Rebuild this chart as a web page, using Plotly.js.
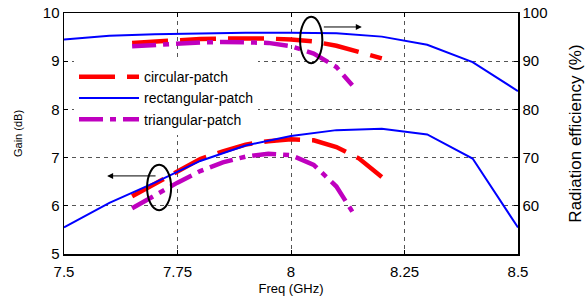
<!DOCTYPE html>
<html>
<head>
<meta charset="utf-8">
<script src="https://cdn.plot.ly/plotly-3.0.1.min.js"></script>
<style>html,body{margin:0;padding:0;background:#fff;}#chart{width:585px;height:300px;}</style>
</head>
<body>
<div id="chart"></div>
<script>
// Frequencies (GHz)
const freqRect = [7.5, 7.6, 7.7, 7.8, 7.9, 8.0, 8.1, 8.2, 8.3, 8.4, 8.5];
const freqCirc = [7.65, 7.7, 7.75, 7.8, 7.85, 7.9, 7.95, 8.0, 8.05, 8.1, 8.15, 8.2];
const freqTri  = [7.65, 7.7, 7.75, 7.8, 7.85, 7.9, 7.95, 8.0, 8.05, 8.1, 8.135];

// Gain (dB)
const gainRect = [5.55, 6.06, 6.48, 6.93, 7.25, 7.45, 7.57, 7.6, 7.48, 6.98, 5.55];
const gainCirc = [6.2, 6.45, 6.72, 6.97, 7.13, 7.27, 7.34, 7.38, 7.36, 7.22, 6.98, 6.6];
const gainTri  = [5.95, 6.22, 6.48, 6.72, 6.9, 7.02, 7.08, 7.05, 6.85, 6.4, 5.88];

// Radiation efficiency (%)
const effRect = [94.5, 95.3, 95.6, 95.8, 95.9, 95.9, 95.8, 95.1, 93.4, 89.8, 83.8];
const effCirc = [93.8, 94.1, 94.4, 94.6, 94.7, 94.75, 94.7, 94.5, 94.1, 93.2, 92.0, 90.6];
const effTri  = [93.1, 93.4, 93.7, 93.9, 94.0, 94.0, 93.8, 93.1, 91.6, 88.8, 85.0];

const names = ['circular-patch', 'rectangular-patch', 'triangular-patch'];

const red = '#ff0000', blue = '#0000ff', mag = '#bf00bf';
const redDash = '36px,12px';
const magDash = '24px,7px,6px,7px';

const traces = [
  {x: freqCirc, y: gainCirc, name: names[0], mode: 'lines', line: {color: red, width: 4.5, dash: redDash}, yaxis: 'y'},
  {x: freqRect, y: gainRect, name: names[1], mode: 'lines', line: {color: blue, width: 2}, yaxis: 'y'},
  {x: freqTri, y: gainTri, name: names[2], mode: 'lines', line: {color: mag, width: 4.5, dash: magDash}, yaxis: 'y'},
  {x: freqCirc, y: effCirc, name: names[0], mode: 'lines', line: {color: red, width: 4.5, dash: redDash}, yaxis: 'y2', showlegend: false},
  {x: freqRect, y: effRect, name: names[1], mode: 'lines', line: {color: blue, width: 2}, yaxis: 'y2', showlegend: false},
  {x: freqTri, y: effTri, name: names[2], mode: 'lines', line: {color: mag, width: 4.5, dash: magDash}, yaxis: 'y2', showlegend: false}
];

const FAM = 'Liberation Sans, Arial, sans-serif';
const axFont = {family: FAM, size: 15, color: '#000'};

const layout = {
  width: 585, height: 300,
  margin: {l: 64, r: 67, t: 13, b: 46},
  paper_bgcolor: '#fff', plot_bgcolor: '#fff',
  showlegend: true,
  legend: {
    x: 0.022, y: 0.80, xanchor: 'left', yanchor: 'top',
    bgcolor: '#fff', borderwidth: 0,
    font: {family: FAM, size: 14, color: '#000'},
    itemwidth: 60, tracegroupgap: 0
  },
  xaxis: {
    range: [7.5, 8.5], tickvals: [7.5, 7.75, 8, 8.25, 8.5], ticktext: ['7.5', '7.75', '8', '8.25', '8.5'],
    showline: true, linecolor: '#000', linewidth: 1.5, mirror: 'ticks',
    ticks: 'inside', ticklen: 4, tickcolor: '#000', ticklabelstandoff: 3,
    showgrid: true, gridcolor: '#555', gridwidth: 1, griddash: '4px,4px',
    zeroline: false, tickfont: axFont,
    title: {text: 'Freq (GHz)', font: {family: FAM, size: 13, color: '#000'}, standoff: 5}
  },
  yaxis: {
    range: [5, 10], tickvals: [5, 6, 7, 8, 9, 10],
    showline: true, linecolor: '#000', linewidth: 1.5,
    ticks: 'inside', ticklen: 4, tickcolor: '#000',
    showgrid: true, gridcolor: '#555', gridwidth: 1, griddash: '4px,4px',
    zeroline: false, tickfont: axFont,
    title: {text: 'Gain (dB)', font: {family: FAM, size: 11, color: '#000'}, standoff: 18}
  },
  yaxis2: {
    range: [50, 100], tickvals: [60, 70, 80, 90, 100],
    overlaying: 'y', side: 'right',
    showline: true, linecolor: '#000', linewidth: 1.5,
    ticks: 'inside', ticklen: 4, tickcolor: '#000',
    showgrid: false, zeroline: false, tickfont: axFont,
    title: {text: 'Radiation efficiency (%)', font: {family: FAM, size: 17, color: '#000'}, standoff: 22}
  },
  shapes: [
    {type: 'circle', xref: 'x', yref: 'y', x0: 8.02, x1: 8.069, y0: 8.96, y1: 9.92, line: {color: '#000', width: 2}},
    {type: 'circle', xref: 'x', yref: 'y', x0: 7.683, x1: 7.736, y0: 5.91, y1: 6.85, line: {color: '#000', width: 2}}
  ],
  annotations: [
    {x: 8.156, y: 9.71, ax: 8.069, ay: 9.71, xref: 'x', yref: 'y', axref: 'x', ayref: 'y', text: '', showarrow: true, arrowhead: 2, arrowsize: 1.2, arrowwidth: 1, arrowcolor: '#000'},
    {x: 7.595, y: 6.62, ax: 7.705, ay: 6.62, xref: 'x', yref: 'y', axref: 'x', ayref: 'y', text: '', showarrow: true, arrowhead: 2, arrowsize: 1.2, arrowwidth: 1, arrowcolor: '#000'}
  ]
};

Plotly.newPlot('chart', traces, layout, {displayModeBar: false, staticPlot: true});
</script>
</body>
</html>
